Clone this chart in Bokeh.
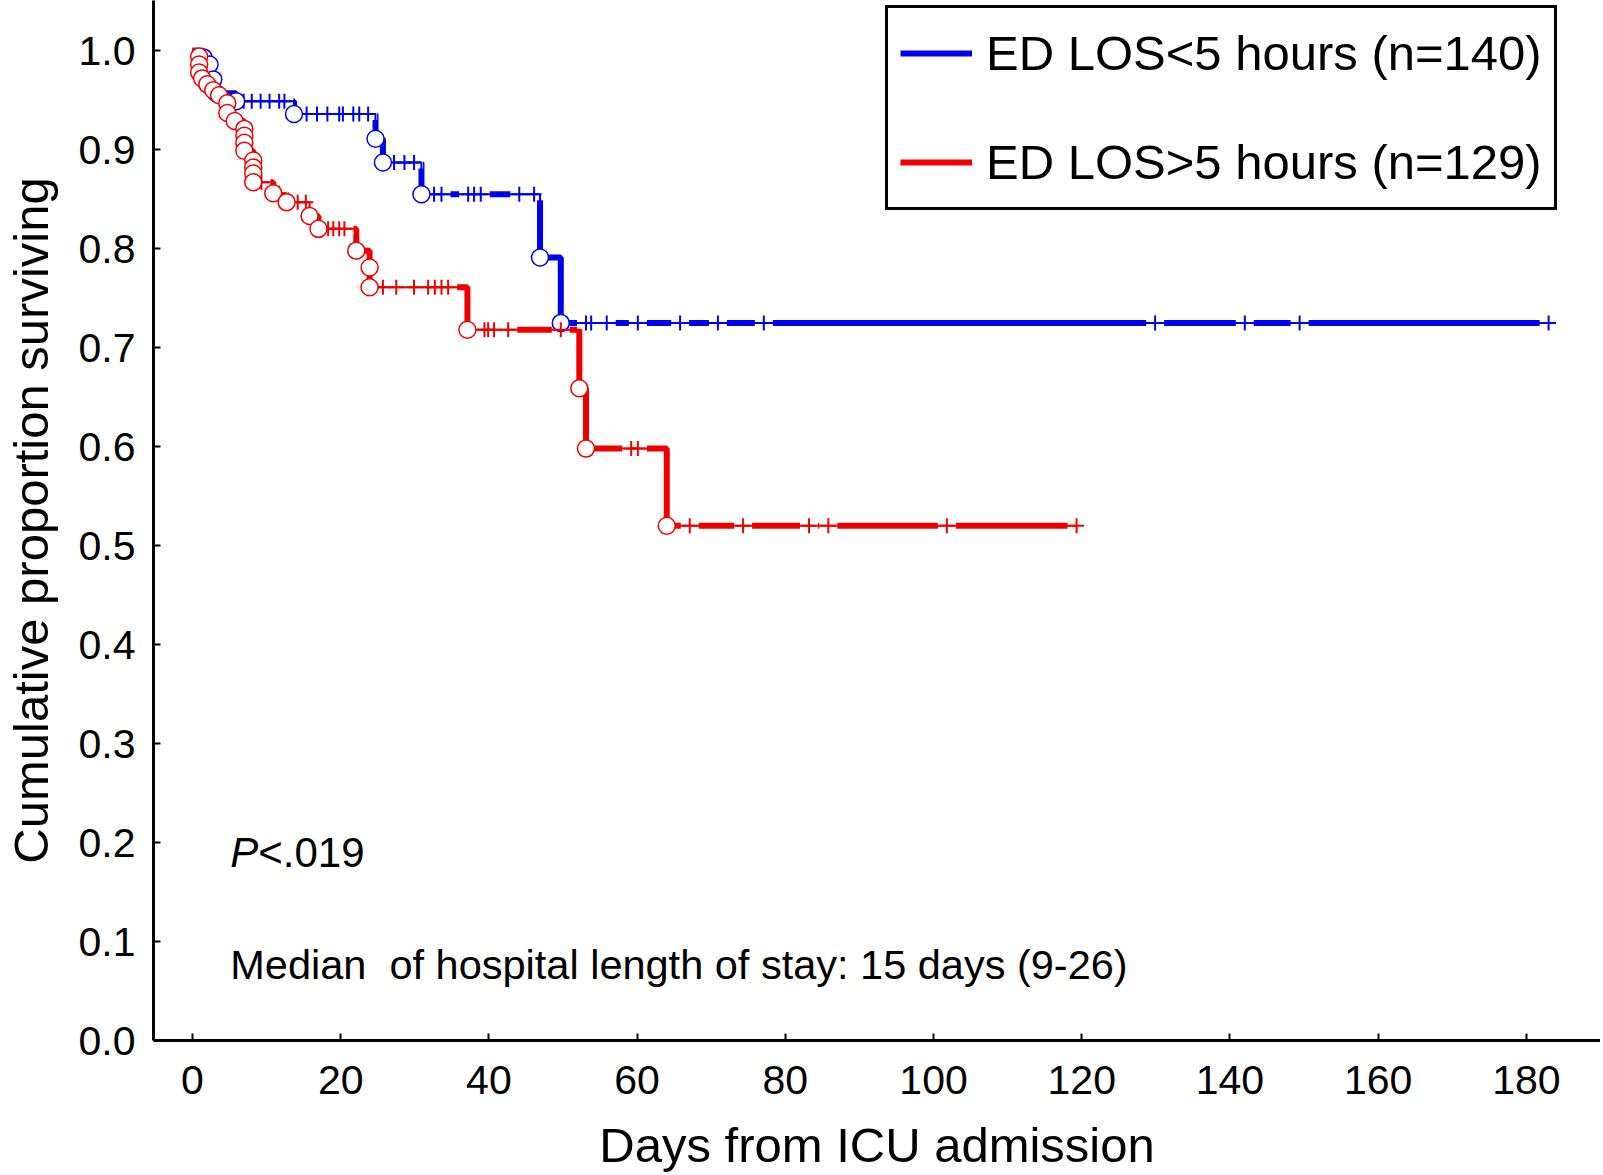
import numpy as np
from bokeh.plotting import figure
from bokeh.models import FixedTicker, PrintfTickFormatter, Legend, LegendItem, Range1d
from bokeh.core.properties import value
from bokeh.embed import file_html
from bokeh.resources import INLINE

# ED LOS < 5 hours (blue): events (circles) and censored cases (crosses)
blue_event_day = [1.5, 2.3, 2.8, 3.2, 5.9, 13.7, 24.7, 25.7, 30.9, 46.9, 49.7]
blue_event_surv = [0.993, 0.986, 0.971, 0.957, 0.949, 0.936, 0.911, 0.887, 0.855, 0.791, 0.725]
blue_censor_day = [6.9, 8.0, 9.2, 10.4, 11.7, 12.4, 15.4, 16.8, 18.2, 19.8, 20.3, 21.7, 22.5,
                   23.7, 27.2, 28.6, 29.9, 32.6, 33.6, 37.2, 38.0, 38.9, 44.1, 46.1, 53.1,
                   53.8, 55.9, 60.1, 65.8, 70.9, 77.1, 129.9, 142.0, 149.4, 183.0]

# ED LOS > 5 hours (red)
red_event_day = [0.9, 0.9, 0.9, 1.3, 2.0, 2.8, 3.6, 4.7, 4.7, 5.7, 7.0, 7.0, 7.0, 7.0,
                 8.2, 8.2, 8.2, 8.2, 10.9, 12.7, 15.8, 17.0, 22.1, 23.9, 23.9, 37.1,
                 52.2, 53.1, 64.0]
red_event_surv = [0.994, 0.986, 0.978, 0.972, 0.966, 0.960, 0.955, 0.947, 0.937, 0.929,
                  0.921, 0.914, 0.907, 0.899, 0.889, 0.882, 0.876, 0.867, 0.856, 0.847,
                  0.833, 0.820, 0.798, 0.781, 0.761, 0.718, 0.659, 0.598, 0.520]
red_censor_day = [9.3, 11.7, 14.2, 15.3, 18.3, 19.0, 19.8, 20.5, 25.7, 27.5, 29.9, 31.8,
                  32.7, 33.6, 34.5, 39.4, 39.9, 40.7, 42.6, 49.7, 59.2, 60.1, 67.1, 74.3,
                  83.2, 85.8, 101.8, 119.3]

x_ticks = [0, 20, 40, 60, 80, 100, 120, 140, 160, 180]
y_ticks = [0.0, 0.1, 0.2, 0.3, 0.4, 0.5, 0.6, 0.7, 0.8, 0.9, 1.0]

BLUE = "#0000ee"
RED = "#ee0000"
FONT = "Liberation Sans"


def level_at(days, ev_day, ev_surv):
    # survival just after the last event on or before each day
    idx = np.searchsorted(ev_day, days, side="right") - 1
    surv = np.asarray(ev_surv)
    return np.where(idx >= 0, surv[np.clip(idx, 0, None)], 1.0)


def step_xy(ev_day, ev_surv, cens_day):
    xs = [0.0] + list(ev_day) + [max(cens_day)]
    ys = [1.0] + list(ev_surv) + [ev_surv[-1]]
    return xs, ys


p = figure(width=1600, height=1174, x_range=Range1d(-5.26, 190.0), y_range=Range1d(0, 1.0507),
           output_backend="svg", toolbar_location=None,
           min_border_left=152, min_border_bottom=134, min_border_top=0, min_border_right=0)
p.outline_line_color = None
p.xgrid.grid_line_color = None
p.ygrid.grid_line_color = None
p.background_fill_color = "white"

curves = [(blue_event_day, blue_event_surv, blue_censor_day, BLUE),
          (red_event_day, red_event_surv, red_censor_day, RED)]

thick = []
for ev_d, ev_s, c_d, col in curves:
    xs, ys = step_xy(ev_d, ev_s, c_d)
    thick.append(p.step(xs, ys, mode="after", line_color=col, line_width=6))

# white gaps behind censor marks, thin line shows through them
for ev_d, ev_s, c_d, col in curves:
    cy = level_at(c_d, ev_d, ev_s)
    p.rect(x=c_d, y=cy, width=18, height=12, width_units="screen", height_units="screen",
           fill_color="white", line_color=None)

for ev_d, ev_s, c_d, col in curves:
    xs, ys = step_xy(ev_d, ev_s, c_d)
    p.step(xs, ys, mode="after", line_color=col, line_width=2)

for ev_d, ev_s, c_d, col in curves:
    cy = level_at(c_d, ev_d, ev_s)
    p.scatter(c_d, cy, marker="cross", size=15, line_color=col, line_width=2)
    p.scatter(ev_d, ev_s, marker="circle", size=17, fill_color="white", line_color=col, line_width=1.5)

# axes
p.xaxis.ticker = FixedTicker(ticks=x_ticks)
p.yaxis.ticker = FixedTicker(ticks=y_ticks)
p.yaxis.formatter = PrintfTickFormatter(format="%.1f")
for ax in (p.xaxis, p.yaxis):
    ax.axis_line_width = 3
    ax.axis_line_color = "black"
    ax.major_tick_in = 7
    ax.major_tick_out = 0
    ax.major_tick_line_width = 2
    ax.minor_tick_line_color = None
    ax.major_label_text_font = FONT
    ax.major_label_text_font_size = "41px"
    ax.major_label_text_color = "black"
    ax.axis_label_text_font = FONT
    ax.axis_label_text_font_size = "49px"
    ax.axis_label_text_font_style = "normal"
    ax.axis_label_text_color = "black"
p.xaxis.axis_label = "Days from ICU admission"
p.yaxis.axis_label = "Cumulative proportion surviving"
p.xaxis.major_label_standoff = 25
p.yaxis.major_label_standoff = 18
p.xaxis.axis_label_standoff = 21
p.yaxis.axis_label_standoff = 18

# annotations
p.text(x=[5.1], y=[0.190], text=["P"], text_font=value(FONT), text_font_style="italic",
       text_font_size="42px", text_baseline="middle", text_color="black")
p.text(x=[5.1], y=[0.190], text=["<.019"], x_offset=28, text_font=value(FONT),
       text_font_size="42px", text_baseline="middle", text_color="black")
p.text(x=[5.1], y=[0.0768], text=["Median\u00a0 of hospital length of stay: 15 days (9-26)"],
       text_font=value(FONT), text_font_size="41.5px", text_baseline="middle", text_color="black")

legend = Legend(items=[LegendItem(label="ED LOS<5 hours (n=140)", renderers=[thick[0]]),
                       LegendItem(label="ED LOS>5 hours (n=129)", renderers=[thick[1]])],
                location=(732, 830))
legend.label_text_font = FONT
legend.label_text_font_size = "49px"
legend.label_text_color = "black"
legend.glyph_width = 72
legend.glyph_height = 66
legend.label_height = 66
legend.label_standoff = 14
legend.spacing = 43
legend.padding = 12
legend.margin = 0
legend.border_line_color = "black"
legend.border_line_alpha = 1.0
legend.border_line_width = 3
legend.background_fill_color = "white"
legend.background_fill_alpha = 1.0
p.add_layout(legend)

open("out.html", "w").write(file_html(p, INLINE))
